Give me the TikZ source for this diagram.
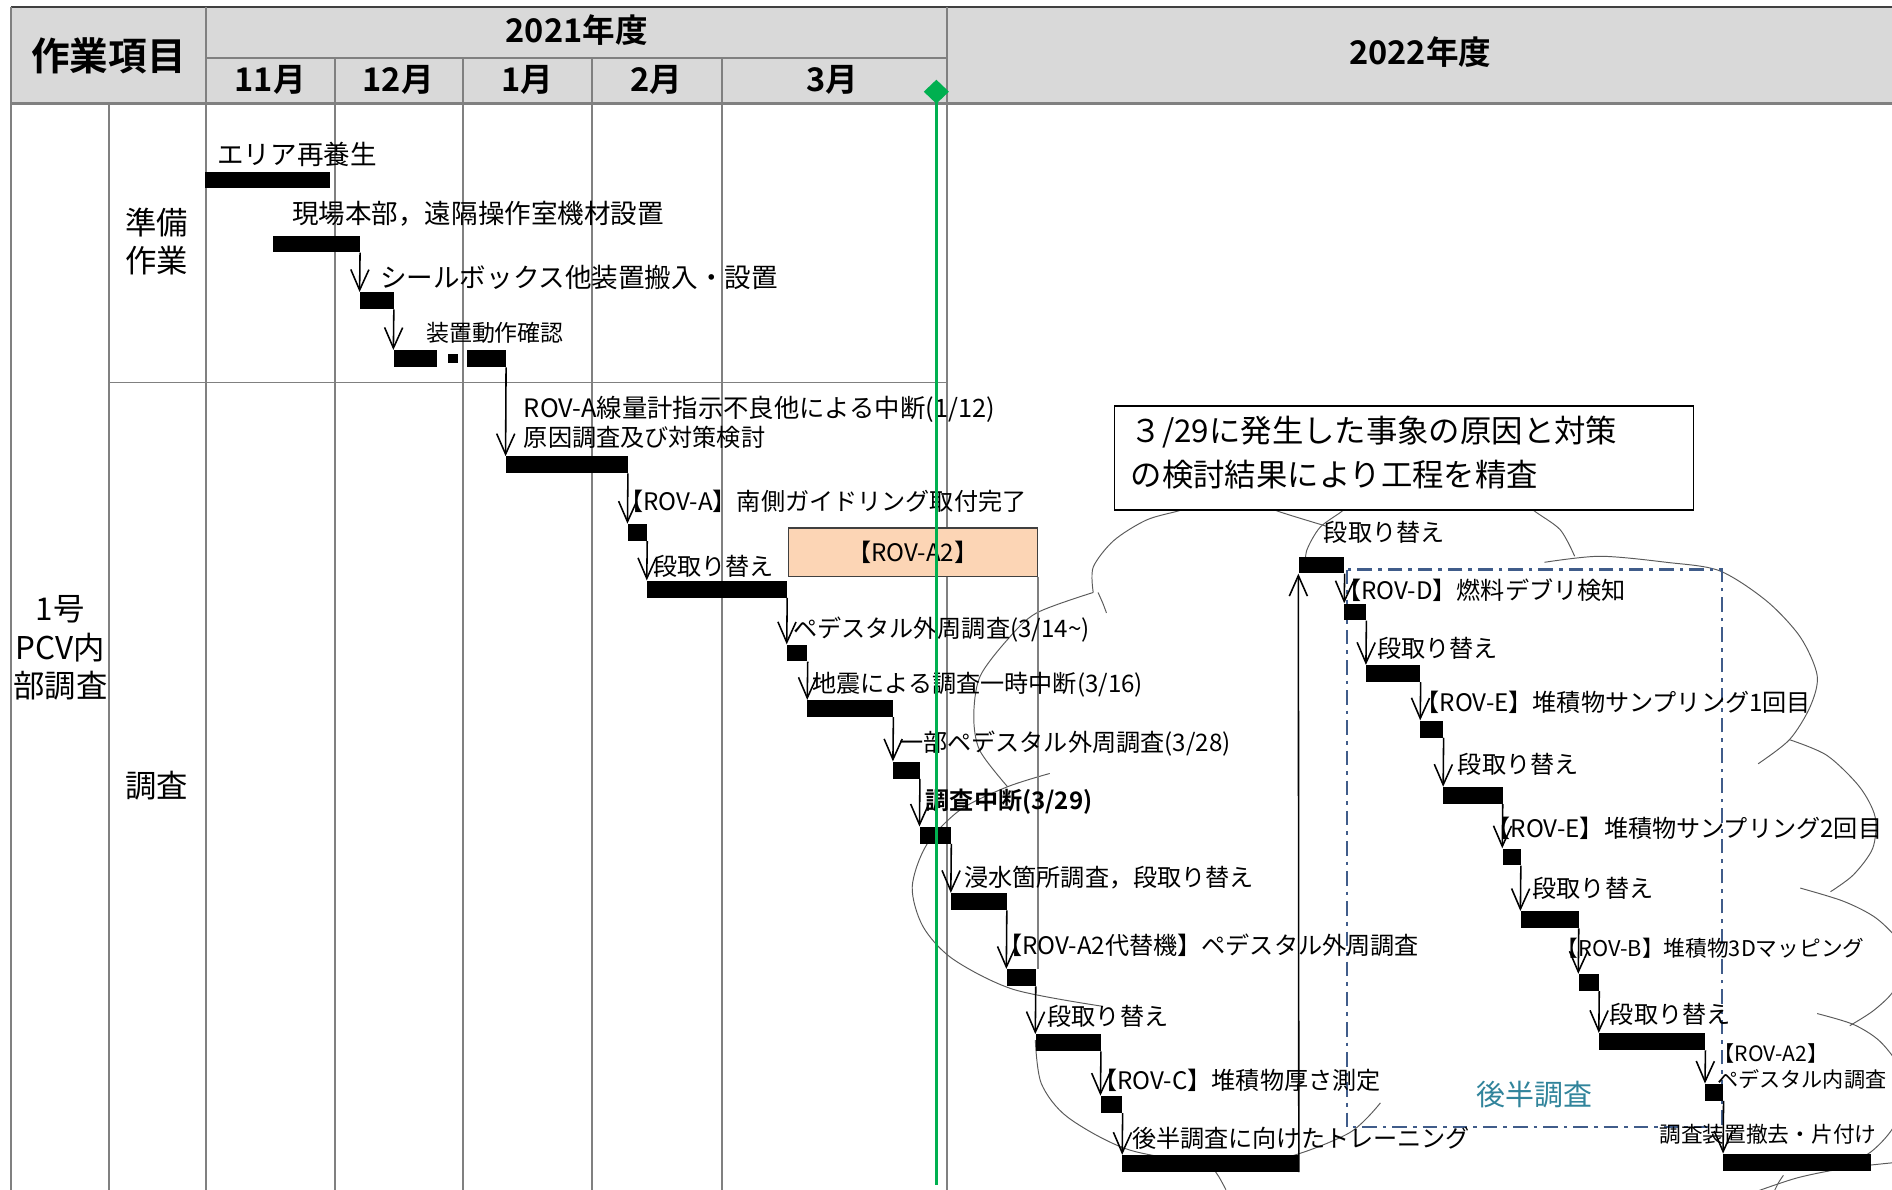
\documentclass[tikz,border=0pt]{standalone}
\usepackage{fontspec}
\setmainfont{Noto Sans CJK JP}[BoldFont={Noto Sans CJK JP Bold}]
\usetikzlibrary{arrows.meta,positioning,shapes.geometric}

\definecolor{hdrgray}{RGB}{217,217,217}
\definecolor{gridgray}{RGB}{128,128,128}
\definecolor{edgegray}{RGB}{64,64,64}
\definecolor{msgreen}{RGB}{0,176,80}
\definecolor{peach}{RGB}{252,213,181}
\definecolor{slateblue}{RGB}{64,92,138}
\definecolor{tealtxt}{RGB}{49,132,155}
\definecolor{cloudgray}{RGB}{90,90,90}

\tikzset{
  gridln/.style={draw=gridgray, line width=1.6pt},
  gbar/.style={fill=black, inner sep=0pt, anchor=north west, minimum height=14pt},
  flow/.style={line width=1.3pt, -{Straight Barb[length=17pt,width=15pt]}},
  lbl/.style={anchor=base west, inner sep=0pt, font=\fontsize{20}{24}\selectfont},
  hdr/.style={font=\bfseries\fontsize{27}{31}\selectfont},
  side/.style={align=center, font=\fontsize{26}{32}\selectfont},
  puff/.style={draw=cloudgray, line width=0.8pt},
}

\begin{document}
\begin{tikzpicture}[x=1pt,y=-1pt]
\useasboundingbox (0,0) rectangle (1568,986);
% Header band
\fill[hdrgray] (9,6) rectangle (1580,86);
\draw[edgegray, line width=1.6pt] (9,6) -- (1580,6);
\draw[gridln] (171,48) -- (785,48);
\draw[gridln, line width=2.6pt] (9,86) -- (1580,86);
% Column lines
\draw[gridln] (9,6) -- (9,992);
\draw[gridln] (171,6) -- (171,992);
\draw[gridln] (785,6) -- (785,992);
\draw[gridln] (90,86) -- (90,992);
\foreach \x in {278,384,491,598} {\draw[gridln] (\x,48) -- (\x,992);}
\draw[gridln] (90,317) -- (785,317);

% Header texts
\node[font=\bfseries\fontsize{32}{36}\selectfont] (item) at (90,46) {作業項目};
\node[hdr] (fy21) at (478,25) {2021年度};
\node[hdr] (fy22) at (1177,43) {2022年度};
\foreach \m/\x in {11月/224,12月/330,1月/437,2月/544,3月/690} {\node[hdr] (m\x) at (\x,66) {\m};}
% Row titles
\node[side] (prep) at (130,200) {準備\\作業};
\node[side] (surv) at (130,651) {調査};
\node[side] (unit) at (50,537) {1号\\PCV内\\部調査};

% Cloud outline
\draw[puff] plot[smooth] coordinates {(906,491) (906,470) (923,448) (950,431) (978,423) (1010,413)};
\draw[puff] plot[smooth] coordinates {(910,491) (914,500) (917,508)};
\draw[puff] plot[smooth] coordinates {(906,491) (859,508) (835,530) (812,561) (807,594) (812,622) (835,652)};
\draw[puff] plot[smooth] coordinates {(870,641) (835,652) (796,671) (768,700) (756,735) (765,768) (790,795) (840,820) (914,834)};
\draw[puff] plot[smooth] coordinates {(858,862) (863,898) (885,926) (936,953) (1007,964) (1063,960) (1118,939) (1144,914)};
\draw[puff] plot[smooth] coordinates {(1003,965) (1010,975) (1016,986)};
\draw[puff] plot[smooth] coordinates {(1035,414) (1060,424) (1099,436)};
\draw[puff] plot[smooth] coordinates {(1122,412) (1113,423) (1094,437) (1083,456) (1082,470)};
\draw[puff] plot[smooth] coordinates {(1262,413) (1271,423) (1293,439) (1305,461)};
\draw[puff] plot[smooth] coordinates {(1280,466) (1326,461) (1381,466) (1425,473) (1464,498) (1492,528) (1506,560) (1500,586) (1483,613) (1457,633)};
\draw[puff] plot[smooth] coordinates {(1483,613) (1514,626) (1541,652) (1554,677) (1552,703) (1536,725) (1517,739)};
\draw[puff] plot[smooth] coordinates {(1492,736) (1528,747) (1555,761) (1575,782) (1578,803) (1568,823) (1552,838) (1533,850)};
\draw[puff] plot[smooth] coordinates {(1506,840) (1536,849) (1558,863) (1575,886) (1578,912) (1568,936) (1550,955) (1525,968)};
\draw[puff] plot[smooth] coordinates {(1454,988) (1490,976) (1530,968) (1575,963)};
\draw[puff] plot[smooth] coordinates {(1478,974) (1474,980) (1470,988)};

% Second-half frame
\draw[slateblue, line width=1.8pt, dash pattern=on 12pt off 5pt on 3pt off 5pt] (1116,472) rectangle (1427,934);
\node[text=tealtxt, font=\fontsize{24}{28}\selectfont] (half) at (1272,907) {後半調査};

% Note box
\node[draw, line width=1.3pt, fill=white, minimum width=480pt, minimum height=86pt, anchor=north west, inner sep=0pt] (note) at (923,336) {};
\node[lbl, font=\fontsize{26}{30}\selectfont] (note1) at (937,367) {３/29に発生した事象の原因と対策};
\node[lbl, font=\fontsize{26}{30}\selectfont] (note2) at (937,403) {の検討結果により工程を精査};

% ROV-A2 box
\node[draw=edgegray, fill=peach, line width=1.2pt, minimum width=206pt, minimum height=40pt, anchor=north west, inner sep=0pt, font=\fontsize{20}{24}\selectfont] (rova2) at (653,437) {【ROV-A2】};

% Bars
\node[gbar, minimum width=103pt] (b1) at (170,142) {};
\node[gbar, minimum width=72pt] (b2) at (226,195) {};
\node[gbar, minimum width=28pt] (b3) at (298,242) {};
\node[gbar, minimum width=36pt] (b4) at (326,290) {};
\node[gbar, minimum width=8pt, minimum height=8pt] (b4d) at (371,293) {};
\node[gbar, minimum width=32pt] (b4e) at (387,290) {};
\node[gbar, minimum width=101pt] (b5) at (419,378) {};
\node[gbar, minimum width=16pt] (b6) at (520,434) {};
\node[gbar, minimum width=116pt] (b7) at (536,481) {};
\node[gbar, minimum width=17pt] (b8) at (652,534) {};
\node[gbar, minimum width=71pt] (b9) at (669,580) {};
\node[gbar, minimum width=22pt] (b10) at (740,631) {};
\node[gbar, minimum width=26pt] (b11) at (762,685) {};
\node[gbar, minimum width=46pt] (b12) at (788,740) {};
\node[gbar, minimum width=24pt] (b13) at (834,803) {};
\node[gbar, minimum width=54pt] (b14) at (858,857) {};
\node[gbar, minimum width=18pt] (b15) at (912,908) {};
\node[gbar, minimum width=146pt] (b16) at (930,957) {};
\node[gbar, minimum width=38pt] (b17) at (1076,461) {};
\node[gbar, minimum width=18pt] (b18) at (1114,500) {};
\node[gbar, minimum width=45pt] (b19) at (1132,551) {};
\node[gbar, minimum width=19pt] (b20) at (1177,597) {};
\node[gbar, minimum width=49pt] (b21) at (1196,652) {};
\node[gbar, minimum width=15pt] (b22) at (1245,703) {};
\node[gbar, minimum width=48pt] (b23) at (1260,755) {};
\node[gbar, minimum width=17pt] (b24) at (1308,807) {};
\node[gbar, minimum width=88pt] (b25) at (1325,856) {};
\node[gbar, minimum width=15pt] (b26) at (1413,898) {};
\node[gbar, minimum width=122pt] (b27) at (1428,956) {};

% Links between steps
\foreach \p/\n in {b2/b3,b3/b4,b4e/b5,b5/b6,b6/b7,b7/b8,b8/b9,b9/b10,b10/b11,b11/b12,b12/b13,b13/b14,b14/b15,b15/b16,b17/b18,b18/b19,b19/b20,b20/b21,b21/b22,b22/b23,b23/b24,b24/b25,b25/b26,b26/b27}
  {\draw[flow] (\p.south east) -- (\n.north west);}
\draw[flow] (b16.south east) -- (b17.south west);
\draw[gridgray, line width=1pt] (rova2.south east) -- (rova2.south east |- b13.north);

% Step labels
\node[lbl, font=\fontsize{22}{26}\selectfont] (t1) at (180,136) {エリア再養生};
\node[lbl, font=\fontsize{22}{26}\selectfont] (t2) at (242,185) {現場本部，遠隔操作室機材設置};
\node[lbl, font=\fontsize{22}{26}\selectfont] (t3) at (315,238) {シールボックス他装置搬入・設置};
\node[lbl, font=\fontsize{19}{23}\selectfont] (t4) at (353,283) {装置動作確認};
\node[lbl, font=\fontsize{21}{25}\selectfont] (t5) at (434,346) {ROV-A線量計指示不良他による中断(1/12)};
\node[lbl] (t5b) at (434,370) {原因調査及び対策検討};
\node[lbl] (t6) at (513,423) {【ROV-A】南側ガイドリング取付完了};
\node[lbl] (t7) at (541,477) {段取り替え};
\node[lbl] (t8) at (657,528) {ペデスタル外周調査(3/14\textasciitilde)};
\node[lbl] (t9) at (673,574) {地震による調査一時中断(3/16)};
\node[lbl] (t10) at (745,623) {一部ペデスタル外周調査(3/28)};
\node[lbl, font=\bfseries\fontsize{20}{24}\selectfont] (t11) at (767,671) {調査中断(3/29)};
\node[lbl] (t12) at (799,735) {浸水箇所調査，段取り替え};
\node[lbl] (t13) at (827,791) {【ROV-A2代替機】ペデスタル外周調査};
\node[lbl] (t14) at (868,850) {段取り替え};
\node[lbl] (t15) at (906,903) {【ROV-C】堆積物厚さ測定};
\node[lbl] (t16) at (938,951) {後半調査に向けたトレーニング};
\node[lbl] (t17) at (1097,449) {段取り替え};
\node[lbl] (t18) at (1108,497) {【ROV-D】燃料デブリ検知};
\node[lbl] (t19) at (1141,545) {段取り替え};
\node[lbl] (t20) at (1173,590) {【ROV-E】堆積物サンプリング1回目};
\node[lbl] (t21) at (1208,641) {段取り替え};
\node[lbl] (t22) at (1232,694) {【ROV-E】堆積物サンプリング2回目};
\node[lbl] (t23) at (1270,744) {段取り替え};
\node[lbl, font=\fontsize{18}{22}\selectfont] (t24) at (1290,793) {【ROV-B】堆積物3Dマッピング};
\node[lbl] (t25) at (1334,848) {段取り替え};
\node[lbl, font=\fontsize{17.5}{21}\selectfont] (t26) at (1420,880) {【ROV-A2】};
\node[lbl, font=\fontsize{17.5}{21}\selectfont] (t26b) at (1423,901) {ペデスタル内調査};
\node[lbl, font=\fontsize{18}{22}\selectfont] (t27) at (1375,947) {調査装置撤去・片付け};

% Today line
\node[diamond, fill=msgreen, inner sep=0pt, minimum width=21pt, minimum height=20pt] (mile) at (776,76) {};
\coordinate (mileend) at (776,982);
\draw[msgreen, line width=2pt] (mile.center) -- (mileend);
\end{tikzpicture}
\end{document}
